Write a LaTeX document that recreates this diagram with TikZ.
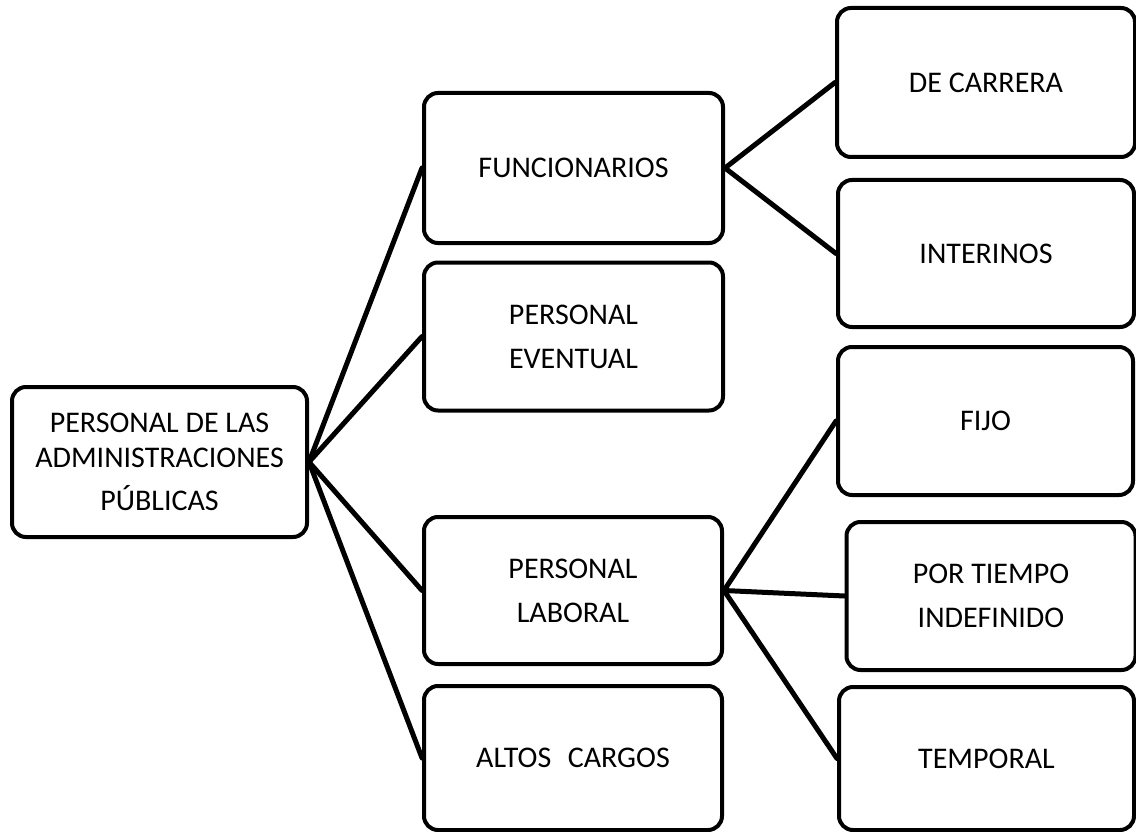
\documentclass[tikz,border=0pt]{standalone}
\usepackage{fontspec}
\setmainfont{Carlito}
\begin{document}
\begin{tikzpicture}[x=1pt,y=-1pt,
  box/.style={draw=black, line width=4pt, rounded corners=14pt, fill=white,
    align=center, font=\fontsize{30}{44}\selectfont, inner sep=0pt},
  link/.style={line width=5pt, line cap=round}]
\useasboundingbox (0,0) rectangle (1136,832);

% root
\node[box, minimum width=295pt, minimum height=150pt] (root) at (159.5,462)
  {PERSONAL DE LAS\\[-9pt]ADMINISTRACIONES\\[-1pt]PÚBLICAS};

% second level
\node[box, minimum width=299pt, minimum height=150pt] (func) at (573.5,168) {FUNCIONARIOS};
\node[box, minimum width=299pt, minimum height=148pt] (event) at (573.5,336.5) {PERSONAL\\EVENTUAL};
\node[box, minimum width=298pt, minimum height=147pt] (labor) at (573,590.5) {PERSONAL\\LABORAL};
\node[box, minimum width=298pt, minimum height=144pt] (altos) at (573,758) {ALTOS\hspace{0.55em}CARGOS};

% third level
\node[box, minimum width=298pt, minimum height=149pt] (carrera) at (986,82.5) {DE CARRERA};
\node[box, minimum width=296pt, minimum height=147pt] (interinos) at (986,253.5) {INTERINOS};
\node[box, minimum width=295pt, minimum height=148pt] (fijo) at (985.5,421) {FIJO};
\node[box, minimum width=289pt, minimum height=148pt] (tiempo) at (991,596) {POR TIEMPO\\INDEFINIDO};
\node[box, minimum width=295pt, minimum height=143pt] (temporal) at (986.5,758.5) {TEMPORAL};

% connectors
\foreach \t in {func,event,labor,altos}
  \draw[link] (root.east) -- (\t.west);
\foreach \t in {carrera,interinos}
  \draw[link] (func.east) -- (\t.west);
\foreach \t in {fijo,tiempo,temporal}
  \draw[link] (labor.east) -- (\t.west);
\end{tikzpicture}
\end{document}
